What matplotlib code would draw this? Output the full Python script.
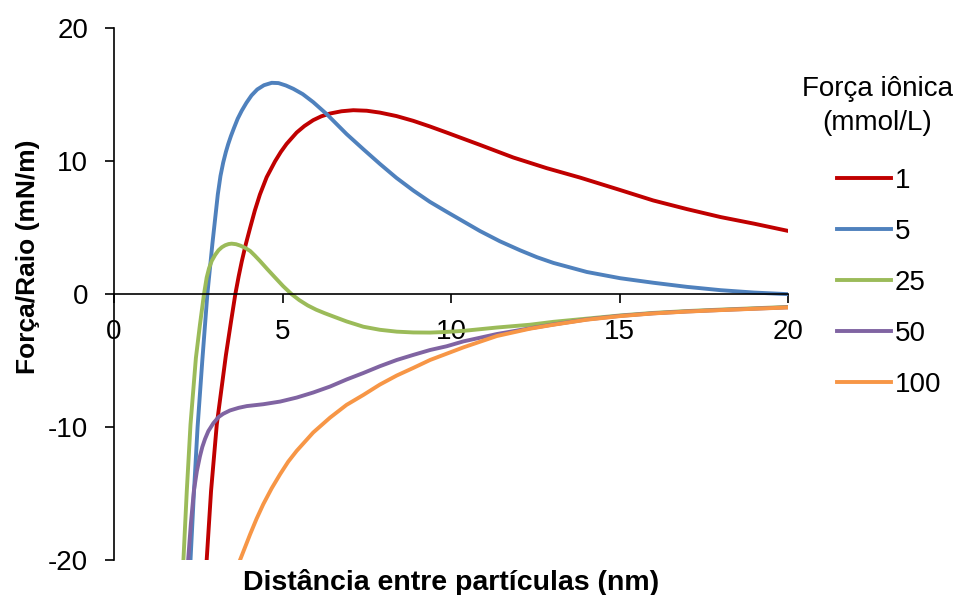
import matplotlib.pyplot as plt

plt.rcParams['font.family'] = ['Liberation Sans', 'DejaVu Sans']
plt.rcParams['axes.unicode_minus'] = False

# force/radius (mN/m) vs. separation distance (nm), one curve per ionic strength
dist_1 = [2.75, 2.88, 3.05, 3.32, 3.47, 3.60, 3.70, 3.79, 3.91, 4.04, 4.18, 4.33,
          4.53, 4.78, 4.95, 5.12, 5.42, 5.65, 5.91, 6.15, 6.41, 6.75, 7.10, 7.50,
          7.89, 8.38, 8.88, 9.37, 9.87, 10.86, 11.85, 12.84, 13.83, 15.0, 16.0,
          17.0, 18.0, 19.0, 20.0]
force_1 = [-20.0, -14.8, -9.8, -4.6, -2.1, 0.0, 1.35, 2.45, 3.75, 5.0, 6.3, 7.5,
           8.8, 10.0, 10.7, 11.3, 12.16, 12.65, 13.09, 13.38, 13.59, 13.76, 13.84,
           13.8, 13.66, 13.4, 13.04, 12.62, 12.16, 11.23, 10.28, 9.48, 8.77, 7.85,
           7.05, 6.4, 5.8, 5.3, 4.76]

dist_5 = [2.27, 2.37, 2.48, 2.62, 2.77, 2.92, 3.08, 3.16, 3.24, 3.32, 3.39, 3.47,
          3.56, 3.67, 3.79, 3.93, 4.08, 4.25, 4.45, 4.68, 4.88, 5.10, 5.32, 5.60,
          5.91, 6.31, 6.90, 7.40, 7.89, 8.38, 8.88, 9.37, 9.87, 10.86, 11.45, 12.05,
          12.55, 13.04, 14.03, 15.02, 16.0, 17.0, 18.0, 19.0, 20.0]
force_5 = [-20.0, -15.0, -10.0, -5.0, 0.0, 3.8, 7.5, 8.9, 9.9, 10.7, 11.3, 11.9,
           12.5, 13.2, 13.8, 14.4, 14.95, 15.4, 15.72, 15.9, 15.88, 15.7, 15.45, 15.05,
           14.45, 13.55, 12.05, 10.9, 9.8, 8.75, 7.8, 6.95, 6.2, 4.75, 3.98, 3.3,
           2.78, 2.35, 1.67, 1.2, 0.86, 0.55, 0.3, 0.12, 0.0]

dist_25 = [2.06, 2.16, 2.27, 2.43, 2.55, 2.67, 2.75, 2.82, 2.90, 3.00, 3.10, 3.20,
           3.30, 3.40, 3.49, 3.62, 3.75, 3.90, 4.04, 4.18, 4.33, 4.55, 4.78, 5.02,
           5.27, 5.50, 5.75, 6.00, 6.25, 6.50, 6.90, 7.40, 7.89, 8.39, 8.88, 9.38,
           9.87, 10.37, 11.36, 12.34, 13.04, 14.03, 15.02, 16.0, 17.0, 18.0, 19.0,
           20.0]
force_25 = [-20.0, -14.8, -9.8, -4.8, -2.3, 0.0, 1.25, 1.95, 2.5, 2.95, 3.3, 3.53,
            3.68, 3.77, 3.8, 3.76, 3.65, 3.47, 3.25, 2.9, 2.5, 1.88, 1.25, 0.6,
            0.0, -0.45, -0.85, -1.17, -1.43, -1.67, -2.05, -2.45, -2.68, -2.82, -2.88,
            -2.89, -2.84, -2.76, -2.51, -2.3, -2.08, -1.84, -1.6, -1.41, -1.27, -1.16,
            -1.06, -0.96]

dist_50 = [2.20, 2.28, 2.37, 2.46, 2.55, 2.62, 2.70, 2.80, 2.95, 3.10, 3.24, 3.44,
           3.70, 3.94, 4.43, 4.93, 5.42, 5.91, 6.41, 6.90, 7.40, 7.89, 8.39, 8.88,
           9.38, 9.87, 10.37, 11.36, 12.34, 13.04, 14.03, 15.02, 16.0, 17.0, 18.0,
           19.0, 20.0]
force_50 = [-20.0, -17.3, -14.8, -13.3, -12.2, -11.5, -10.9, -10.3, -9.7, -9.25,
            -9.0, -8.75, -8.55, -8.42, -8.28, -8.08, -7.78, -7.4, -6.95, -6.42, -5.93,
            -5.42, -4.95, -4.57, -4.2, -3.92, -3.55, -3.0, -2.57, -2.28, -1.9, -1.63,
            -1.44, -1.3, -1.19, -1.09, -0.99]

dist_100 = [3.74, 4.04, 4.23, 4.43, 4.68, 4.93, 5.17, 5.42, 5.91, 6.41, 6.90, 7.40,
            7.89, 8.39, 8.88, 9.38, 9.87, 10.37, 11.36, 12.34, 13.04, 14.03, 15.02,
            16.0, 17.0, 18.0, 19.0, 20.0]
force_100 = [-20.0, -18.06, -16.9, -15.8, -14.6, -13.54, -12.6, -11.79, -10.41, -9.29,
             -8.33, -7.58, -6.8, -6.12, -5.55, -4.95, -4.48, -4.0, -3.15, -2.6, -2.3,
             -1.92, -1.65, -1.45, -1.31, -1.2, -1.1, -1.0]

ionic_labels = ['1', '5', '25', '50', '100']
colors = ['#C00000', '#4F81BD', '#9BBB59', '#8064A2', '#F79646']
x_ticks = [0, 5, 10, 15, 20]
y_ticks = [-20, -10, 0, 10, 20]

fig = plt.figure(figsize=(9.6, 5.95), dpi=100)
ax = fig.add_axes([0.11875, 0.0588, 0.7021, 0.8936])

series = [(dist_1, force_1), (dist_5, force_5), (dist_25, force_25),
          (dist_50, force_50), (dist_100, force_100)]
for (xs, ys), lab, c in zip(series, ionic_labels, colors):
    ax.plot(xs, ys, color=c, lw=2.8, label=lab, solid_joinstyle='round')

ax.set_xlim(0, 20)
ax.set_ylim(-20, 20)
ax.set_xticks(x_ticks)
ax.set_yticks(y_ticks)

# x axis runs through zero, no box
ax.spines['bottom'].set_position(('data', 0))
ax.spines['top'].set_visible(False)
ax.spines['right'].set_visible(False)
for s in ['left', 'bottom']:
    ax.spines[s].set_linewidth(1.2)

ax.tick_params(direction='out', length=6.5, width=1.2, labelsize=20)
ax.tick_params(axis='x', pad=11.5)
ax.tick_params(axis='y', pad=12)

ax.set_xlabel('Distância entre partículas (nm)', fontsize=20.5,
              fontweight='bold', va='baseline')
ax.xaxis.set_label_coords(0.5, -0.0564)
ax.set_ylabel('Força/Raio (mN/m)', fontsize=19, fontweight='bold', va='center')
ax.yaxis.set_label_coords(-0.128, 0.57)

ax.legend(loc='upper left', bbox_to_anchor=(837 / 960, 1 - 168 / 595),
          bbox_transform=fig.transFigure, frameon=False, fontsize=20,
          handlelength=1.94, handletextpad=0.15, labelspacing=0.9,
          borderpad=0, borderaxespad=0)
fig.text(877 / 960, 1 - 106 / 595, 'Força iônica\n(mmol/L)', ha='center',
         va='center', fontsize=20, linespacing=1.4, multialignment='center')

fig.savefig('out.png', dpi=100)
